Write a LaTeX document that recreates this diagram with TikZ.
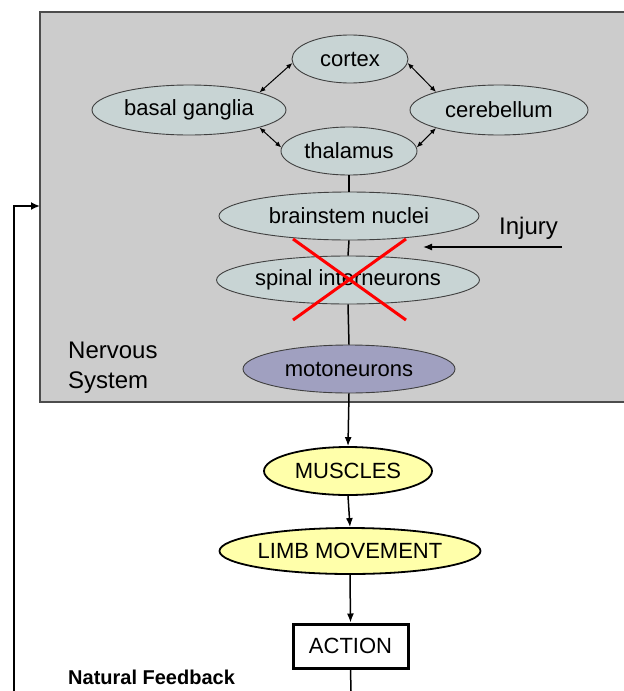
\documentclass[tikz,border=0pt]{standalone}
\usepackage{fontspec}
\setmainfont{Liberation Sans}
\usetikzlibrary{shapes.geometric,arrows.meta}
\definecolor{panelgray}{RGB}{204,204,204}
\definecolor{brainfill}{RGB}{200,212,212}
\definecolor{motofill}{RGB}{160,160,192}
\definecolor{bodyfill}{RGB}{255,255,170}
\begin{document}
\begin{tikzpicture}[x=1pt,y=-1pt,
  brain/.style={ellipse, draw=black!75, line width=0.9pt, fill=brainfill,
    inner sep=0pt, font=\fontsize{22}{24}\selectfont},
  moto/.style={brain, fill=motofill},
  body/.style={ellipse, draw=black, line width=1.8pt, fill=bodyfill,
    inner sep=0pt, font=\fontsize{22}{24}\selectfont},
  actbox/.style={rectangle, draw=black, line width=3pt, fill=white,
    inner sep=0pt, font=\fontsize{22}{24}\selectfont},
  label/.style={anchor=base west, inner sep=0pt, font=\fontsize{24}{28}\selectfont},
  link/.style={line width=1.5pt},
  flow/.style={line width=1.5pt, -{Latex[length=9pt,width=7pt]}},
  twoway/.style={line width=1pt, {Latex[length=6pt,width=5pt]}-{Latex[length=6pt,width=5pt]}}
]
\useasboundingbox (0,0) rectangle (624,691);

% nervous system panel
\fill[panelgray] (40,12) rectangle (630,402);
\draw[black!70, line width=1.2pt] (630,12) -- (40,12) -- (40,402) -- (630,402);

% brain structures
\node[brain, minimum width=116pt, minimum height=48pt] (cortex) at (350,59) {cortex};
\node[brain, minimum width=194pt, minimum height=50pt] (basal) at (189,110) {basal ganglia};
\node[brain, minimum width=178pt, minimum height=50pt] (cereb) at (499,110) {cerebellum};
\node[brain, minimum width=136pt, minimum height=48pt] (thal) at (349,151) {thalamus};
\node[brain, minimum width=260pt, minimum height=48pt] (stem) at (349,216) {brainstem nuclei};
\node[brain, minimum width=262pt, minimum height=48pt] (spinal) at (348,280) {spinal interneurons};
\node[moto, minimum width=212pt, minimum height=48pt] (motor) at (349,369) {motoneurons};

% loops between cortex, basal ganglia, cerebellum and thalamus
\draw[twoway] (cortex.184) -- (basal.14);
\draw[twoway] (cortex.356) -- (cereb.164);
\draw[twoway] (basal.-14) -- (thal.177);
\draw[twoway] (cereb.196) -- (thal.3);

% descending pathway
\draw[link] (thal.south) -- (stem.north);
\draw[link] (stem.south) -- (spinal.north);
\draw[link] (spinal.south) -- (motor.north);

% lesion
\draw[red, line width=3pt] (293,239) -- (406,320);
\draw[red, line width=3pt] (406,239) -- (293,320);
\node[label] (injury) at (499,234) {Injury};
\coordinate (injtail) at (562,247);
\coordinate (injtip) at (423,247);
\draw[line width=1.3pt, -{Latex[length=9pt,width=7pt]}] (injtail) -- (injtip);

\node[label] (nerv1) at (68,358) {Nervous};
\node[label] (nerv2) at (68,388) {System};

% periphery
\node[body, minimum width=168pt, minimum height=48pt] (muscles) at (348,471) {MUSCLES};
\node[body, minimum width=258pt, minimum height=46pt] (limb) at (350,551) {LIMB MOVEMENT};
\node[actbox, minimum width=115pt, minimum height=44pt] (action) at (350.5,646) {ACTION};

\draw[flow] (motor.south) -- (muscles.north);
\draw[flow] (muscles.south) -- (limb.north);
\draw[flow] (limb.south) -- (action.north);
\coordinate (actout) at (351,691);
\draw[link] (action.south) -- (actout);

% feedback path
\node[anchor=base west, inner sep=0pt, font=\fontsize{20}{24}\selectfont\bfseries] (natfb) at (68,684) {Natural Feedback};
\coordinate (fbbottom) at (14,691);
\coordinate (fbcorner) at (14,206);
\coordinate (panelin) at (40,206);
\draw[line width=2pt, -{Latex[length=9pt,width=8pt]}] (fbbottom) -- (fbcorner) -- (panelin);
\end{tikzpicture}
\end{document}
